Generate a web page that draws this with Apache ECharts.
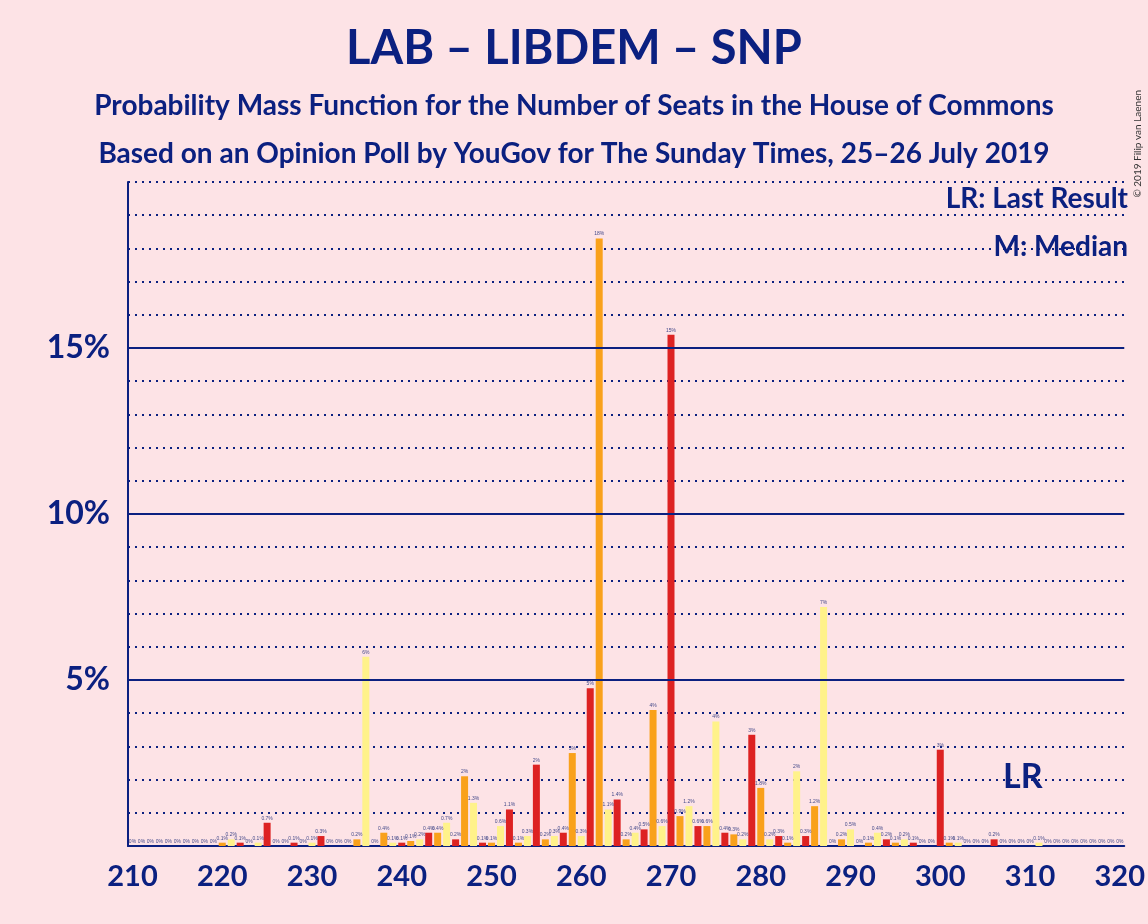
<!DOCTYPE html>
<html>
<head>
<meta charset="UTF-8">
<title>LAB – LIBDEM – SNP</title>
<script src="https://cdn.jsdelivr.net/npm/echarts@6/dist/echarts.min.js"></script>
<style>body{margin:0;background:#fde3e6;}</style>
</head>
<body>
<div id="main" style="width:1148px;height:924px;"></div>
<script type="text/javascript">
// seats 210..320 and probabilities (%)
var seats = [];
for (var s = 210; s <= 320; s++) seats.push(String(s));
var probs = [
  0, 0, 0, 0, 0, 0, 0, 0, 0, 0,              // 210-219
  0.1, 0.2, 0.1, 0, 0.1, 0.7, 0, 0, 0.1, 0,  // 220-229
  0.1, 0.3, 0, 0, 0, 0.2, 5.7, 0, 0.4, 0.1,  // 230-239
  0.1, 0.15, 0.2, 0.4, 0.4, 0.7, 0.2, 2.1, 1.3, 0.1, // 240-249
  0.1, 0.6, 1.1, 0.1, 0.3, 2.45, 0.2, 0.3, 0.4, 2.8, // 250-259
  0.3, 4.75, 18.3, 1.1, 1.4, 0.2, 0.4, 0.5, 4.1, 0.6, // 260-269
  15.4, 0.9, 1.2, 0.6, 0.6, 3.75, 0.4, 0.35, 0.2, 3.35, // 270-279
  1.75, 0.2, 0.3, 0.1, 2.25, 0.3, 1.2, 7.2, 0, 0.2,  // 280-289
  0.5, 0, 0.1, 0.4, 0.2, 0.1, 0.2, 0.1, 0, 0,        // 290-299
  2.9, 0.1, 0.1, 0, 0, 0, 0.2, 0, 0, 0,              // 300-309
  0, 0.1, 0, 0, 0, 0, 0, 0, 0, 0, 0                  // 310-320
];
var palette = ['#dd2222', '#f9a11b', '#fff28a'];
var xTicks = ['210','220','230','240','250','260','270','280','290','300','310','320'];
var yTicks = [5, 10, 15];

var navy = '#0b2080';
var myChart = echarts.init(document.getElementById('main'));

var data = probs.map(function (v, i) {
  return { value: v, itemStyle: { color: palette[(210 + i) % 3] } };
});

option = {
  backgroundColor: '#fde3e6',
  title: [
    { text: 'LAB – LIBDEM – SNP', left: 'center', top: 20,
      textStyle: { fontFamily: 'Lato', fontSize: 47, fontWeight: 'bold', color: navy } },
    { text: 'Probability Mass Function for the Number of Seats in the House of Commons', left: 'center', top: 87,
      textStyle: { fontFamily: 'Lato', fontSize: 28, fontWeight: 'bold', color: navy } },
    { text: 'Based on an Opinion Poll by YouGov for The Sunday Times, 25–26 July 2019', left: 'center', top: 135,
      textStyle: { fontFamily: 'Lato', fontSize: 28, fontWeight: 'bold', color: navy } }
  ],
  graphic: [
    { type: 'text', right: 20, top: 185, style: { text: 'LR: Last Result', font: 'bold 28px Lato', fill: navy } },
    { type: 'text', right: 20, top: 233, style: { text: 'M: Median', font: 'bold 28px Lato', fill: navy } },
    { type: 'text', left: 1003, top: 760, style: { text: 'LR', font: 'bold 34px Lato', fill: navy } },
    { type: 'text', left: 1133, top: 90, rotation: Math.PI / 2,
      style: { text: '© 2019 Filip van Laenen', font: '10px Lato', fill: '#333' } }
  ],
  grid: { left: 128, right: 23, top: 182, bottom: 78 },
  xAxis: {
    type: 'category',
    data: seats,
    axisLine: { lineStyle: { color: navy, width: 2 } },
    axisTick: { show: false },
    axisLabel: {
      interval: 0, margin: 16,
      formatter: function (v) { return xTicks.indexOf(v) >= 0 ? v : ''; },
      fontFamily: 'Lato', fontSize: 29, fontWeight: 'bold', color: navy
    }
  },
  yAxis: {
    type: 'value', min: 0, max: 20, interval: 1,
    axisLine: { show: true, lineStyle: { color: navy, width: 2 } },
    axisTick: { show: false },
    axisLabel: {
      formatter: function (v) { return yTicks.indexOf(v) >= 0 ? v + '%' : ''; },
      fontFamily: 'Lato', fontSize: 32, fontWeight: 'bold', color: navy, margin: 18
    },
    splitLine: { lineStyle: { color: navy, type: [2, 5], width: 2 } }
  },
  series: [{
    type: 'bar',
    data: data,
    barWidth: 7,
    label: {
      show: true, position: 'top', distance: 2, fontSize: 5, color: '#444a8a',
      formatter: function (p) {
        var v = p.value;
        if (v === 0) return '0%';
        return v < 2 ? v.toFixed(1) + '%' : Math.round(v) + '%';
      }
    },
    markLine: {
      silent: true, symbol: 'none', label: { show: false },
      lineStyle: { color: navy, type: 'solid', width: 2 },
      data: yTicks.map(function (t) { return { yAxis: t }; })
    }
  }]
};

myChart.setOption(option);
</script>
</body>
</html>
